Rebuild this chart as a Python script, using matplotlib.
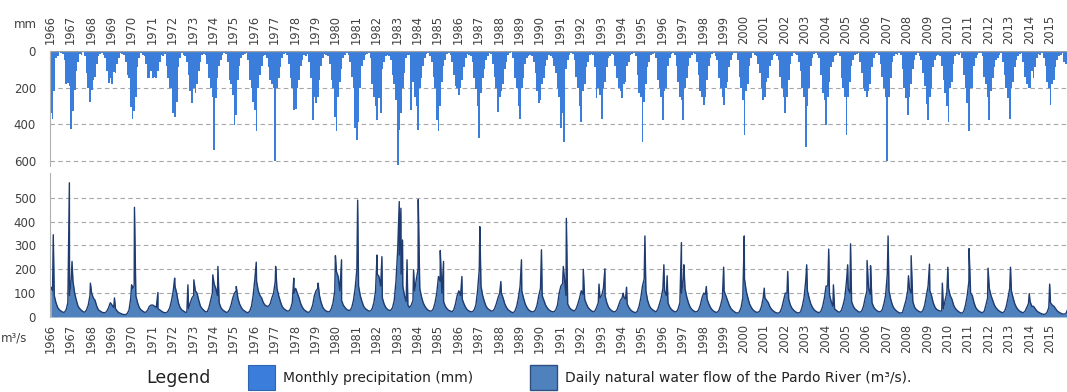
import numpy as np
import matplotlib
matplotlib.use("Agg")
import matplotlib.pyplot as plt
from matplotlib.patches import Rectangle

# anos da série (jan 1966 - nov 2015)
years = list(range(1966, 2016))

# precipitação mensal (mm), uma linha por ano, jan..dez
precip_mm = [
    [340, 370, 220, 40, 30, 5, 10, 15, 50, 180, 175, 190],
    [425, 330, 215, 110, 60, 15, 20, 5, 30, 120, 200, 280],
    [215, 160, 140, 70, 30, 15, 10, 20, 40, 110, 175, 150],
    [180, 115, 120, 70, 40, 10, 15, 20, 60, 130, 150, 305],
    [370, 330, 250, 90, 40, 10, 20, 30, 70, 150, 150, 110],
    [150, 145, 150, 110, 60, 20, 30, 15, 80, 150, 205, 200],
    [340, 360, 280, 90, 40, 10, 20, 25, 60, 130, 220, 287],
    [205, 230, 180, 110, 60, 20, 15, 20, 70, 150, 200, 250],
    [540, 260, 150, 80, 50, 20, 10, 15, 60, 160, 180, 240],
    [405, 350, 160, 80, 40, 20, 15, 10, 50, 160, 200, 280],
    [325, 440, 200, 130, 80, 30, 20, 40, 90, 160, 180, 200],
    [605, 200, 150, 90, 40, 15, 10, 20, 70, 150, 200, 325],
    [320, 200, 160, 80, 50, 20, 30, 15, 60, 150, 378, 250],
    [287, 250, 160, 80, 40, 15, 20, 30, 70, 160, 200, 360],
    [440, 250, 170, 100, 40, 20, 10, 20, 60, 140, 200, 424],
    [487, 387, 200, 80, 50, 20, 15, 10, 40, 180, 250, 300],
    [378, 260, 342, 100, 60, 30, 20, 30, 50, 130, 180, 270],
    [623, 433, 340, 200, 120, 40, 20, 20, 325, 170, 250, 300],
    [433, 200, 150, 80, 40, 15, 10, 30, 60, 140, 200, 378],
    [440, 300, 170, 80, 50, 15, 10, 20, 60, 130, 190, 200],
    [242, 200, 160, 90, 40, 15, 20, 30, 60, 150, 210, 300],
    [478, 230, 150, 100, 50, 25, 10, 15, 70, 140, 200, 333],
    [250, 220, 180, 100, 60, 20, 10, 5, 40, 150, 200, 300],
    [370, 200, 150, 70, 40, 30, 20, 30, 60, 120, 220, 287],
    [270, 180, 150, 80, 50, 20, 30, 40, 80, 120, 200, 250],
    [424, 340, 496, 100, 50, 20, 10, 15, 50, 140, 200, 300],
    [387, 220, 180, 90, 60, 20, 15, 20, 90, 260, 200, 240],
    [370, 200, 170, 90, 40, 30, 15, 20, 80, 150, 200, 220],
    [260, 180, 170, 80, 60, 20, 15, 10, 30, 130, 230, 250],
    [496, 280, 180, 90, 60, 20, 15, 10, 40, 160, 200, 250],
    [378, 220, 200, 80, 40, 15, 10, 20, 80, 170, 250, 270],
    [378, 200, 150, 80, 40, 20, 10, 15, 60, 130, 220, 250],
    [296, 250, 160, 80, 40, 15, 10, 30, 50, 150, 200, 250],
    [296, 200, 170, 90, 50, 20, 10, 10, 50, 140, 200, 270],
    [460, 220, 180, 80, 40, 10, 20, 30, 70, 120, 200, 270],
    [250, 170, 150, 80, 50, 20, 15, 30, 50, 140, 200, 250],
    [342, 250, 160, 70, 30, 10, 15, 20, 60, 110, 200, 250],
    [524, 300, 200, 80, 40, 15, 10, 20, 40, 130, 230, 270],
    [405, 250, 170, 90, 60, 30, 20, 10, 30, 150, 200, 250],
    [460, 250, 170, 80, 50, 20, 15, 10, 60, 120, 200, 220],
    [250, 220, 180, 90, 40, 15, 10, 20, 70, 140, 200, 250],
    [605, 250, 150, 60, 30, 15, 20, 10, 20, 100, 200, 260],
    [350, 250, 180, 100, 50, 20, 10, 30, 50, 120, 190, 290],
    [378, 250, 200, 90, 50, 30, 20, 30, 80, 160, 230, 300],
    [387, 200, 170, 70, 30, 15, 20, 10, 40, 130, 200, 287],
    [440, 200, 200, 80, 40, 20, 10, 10, 30, 140, 180, 250],
    [378, 220, 150, 90, 50, 40, 20, 10, 60, 130, 200, 260],
    [370, 200, 170, 90, 50, 30, 15, 10, 60, 140, 180, 205],
    [205, 110, 150, 90, 40, 15, 20, 10, 40, 80, 170, 200],
    [296, 180, 160, 90, 50, 30, 20, 10, 60, 70, 115],
]

# vazão natural (m3/s) - nível médio de cada mês, jan..dez
flow_m3s = [
    [120, 110, 90, 60, 40, 30, 25, 20, 20, 30, 60, 90],
    [160, 150, 100, 70, 45, 35, 28, 22, 20, 30, 50, 90],
    [100, 80, 70, 45, 30, 25, 20, 18, 18, 25, 40, 60],
    [50, 40, 35, 25, 18, 15, 12, 10, 10, 15, 30, 80],
    [120, 130, 90, 60, 40, 30, 25, 20, 20, 30, 45, 50],
    [50, 45, 40, 35, 30, 25, 20, 18, 18, 25, 40, 70],
    [110, 130, 100, 60, 40, 30, 25, 20, 20, 35, 60, 80],
    [90, 110, 100, 70, 45, 35, 28, 22, 22, 40, 70, 100],
    [140, 120, 90, 60, 40, 30, 25, 20, 20, 30, 50, 80],
    [100, 110, 80, 55, 40, 30, 25, 20, 18, 25, 45, 90],
    [160, 150, 110, 90, 80, 60, 50, 45, 45, 55, 80, 100],
    [150, 120, 90, 65, 45, 35, 30, 25, 25, 35, 60, 100],
    [120, 100, 80, 55, 40, 30, 25, 20, 20, 30, 50, 90],
    [110, 120, 90, 60, 40, 30, 25, 22, 22, 35, 60, 110],
    [190, 170, 110, 70, 50, 40, 32, 28, 28, 40, 70, 120],
    [200, 130, 90, 65, 45, 35, 30, 25, 25, 35, 60, 110],
    [180, 170, 130, 80, 55, 40, 32, 28, 28, 40, 70, 150],
    [280, 260, 180, 130, 90, 65, 50, 40, 50, 70, 110, 160],
    [200, 120, 85, 60, 45, 35, 28, 25, 25, 35, 60, 100],
    [170, 150, 100, 65, 45, 35, 28, 25, 22, 30, 55, 90],
    [110, 90, 75, 55, 40, 30, 25, 22, 22, 30, 50, 110],
    [200, 130, 90, 65, 45, 35, 30, 25, 25, 35, 55, 80],
    [100, 100, 80, 55, 40, 30, 25, 20, 18, 25, 45, 80],
    [130, 110, 80, 55, 40, 30, 25, 22, 22, 30, 50, 90],
    [120, 90, 70, 50, 38, 30, 25, 22, 22, 30, 50, 100],
    [130, 140, 170, 90, 55, 40, 32, 28, 25, 35, 55, 80],
    [110, 95, 75, 55, 40, 32, 26, 22, 25, 40, 60, 80],
    [90, 120, 90, 60, 42, 32, 26, 22, 22, 30, 50, 70],
    [80, 85, 75, 55, 40, 30, 24, 20, 18, 25, 45, 80],
    [130, 160, 110, 70, 48, 36, 30, 25, 22, 32, 55, 80],
    [120, 110, 90, 60, 42, 32, 26, 22, 22, 35, 60, 100],
    [160, 120, 85, 60, 42, 32, 26, 22, 22, 30, 50, 80],
    [100, 95, 75, 55, 40, 30, 24, 20, 20, 28, 50, 80],
    [110, 90, 70, 50, 36, 28, 22, 18, 16, 22, 40, 80],
    [160, 110, 80, 55, 40, 30, 24, 20, 20, 25, 45, 80],
    [80, 70, 60, 42, 32, 25, 20, 17, 16, 22, 40, 70],
    [100, 100, 75, 50, 36, 28, 22, 18, 17, 22, 45, 80],
    [150, 110, 80, 55, 40, 30, 24, 20, 18, 25, 45, 80],
    [130, 130, 95, 65, 45, 34, 28, 22, 20, 28, 50, 80],
    [150, 120, 100, 65, 45, 34, 28, 22, 20, 26, 45, 80],
    [110, 120, 95, 60, 42, 32, 26, 22, 22, 30, 55, 90],
    [180, 110, 75, 50, 36, 28, 22, 18, 16, 20, 45, 70],
    [110, 120, 100, 65, 42, 32, 26, 22, 20, 28, 50, 90],
    [130, 110, 90, 60, 42, 32, 28, 25, 25, 35, 70, 100],
    [120, 90, 75, 50, 36, 28, 22, 18, 16, 24, 50, 90],
    [150, 100, 90, 60, 40, 30, 24, 20, 18, 24, 50, 80],
    [120, 90, 70, 50, 38, 30, 24, 20, 18, 24, 45, 80],
    [120, 110, 80, 55, 40, 30, 24, 20, 18, 24, 40, 55],
    [65, 45, 45, 35, 25, 20, 16, 13, 11, 12, 20, 40],
    [60, 50, 45, 35, 25, 20, 16, 13, 12, 14, 30],
]

# picos diários de cheia (data em ano decimal, vazão m3/s)
peak_dates = [1966.05, 1966.16, 1966.95, 1967.08, 1967.98, 1969.16, 1970.0, 1970.14,
              1971.29, 1972.11, 1972.76, 1973.05, 1973.98, 1974.23, 1975.13, 1976.11,
              1977.06, 1977.95, 1979.14, 1979.99, 1980.29, 1981.08, 1982.03, 1982.27,
              1983.12, 1983.2, 1983.28, 1983.5, 1983.82, 1984.05, 1985.13, 1985.29,
              1986.19, 1987.07, 1988.1, 1989.11, 1990.09, 1991.16, 1991.31, 1992.14,
              1992.91, 1993.2, 1994.1, 1994.26, 1995.16, 1996.09, 1996.25, 1996.95,
              1997.07, 1998.17, 1999.02, 2000.03, 2001.01, 2002.16, 2003.09, 2004.17,
              2004.4, 2005.1, 2005.24, 2006.05, 2006.22, 2007.08, 2008.08, 2008.21,
              2009.11, 2009.74, 2010.01, 2011.05, 2011.98, 2013.08, 2014.0, 2015.0]
peak_flows = [125, 345, 563, 233, 142, 80, 135, 460,
              103, 163, 135, 156, 177, 212, 128, 230,
              212, 163, 142, 257, 240, 490, 260, 253,
              484, 456, 323, 240, 198, 493, 279, 233,
              170, 379, 149, 240, 282, 212, 414, 200,
              138, 202, 100, 125, 340, 219, 173, 312,
              219, 128, 209, 340, 121, 191, 219, 285,
              135, 219, 307, 237, 215, 340, 173, 257,
              222, 142, 209, 287, 205, 209, 98, 138]

c_rain = "#3b7ddb"
c_flow = "#4f81bd"
c_line = "#1f3b6f"
c_grid = "#a6a6a6"
c_txt = "#404040"
plt.rcParams['font.family'] = ['DejaVu Sans']

fig = plt.figure(figsize=(10.67, 3.92), dpi=100)
W, H = 1067, 392
ax1 = fig.add_axes([50 / W, 1 - 166 / H, 1017 / W, 115 / H])
ax2 = fig.add_axes([50 / W, 1 - 317 / H, 1017 / W, 144 / H])

# barras de chuva (invertidas)
bx, bh = [], []
for y, row in zip(years, precip_mm):
    for m, v in enumerate(row):
        bx.append(y + m / 12)
        bh.append(v)
ax1.bar(bx, bh, width=1 / 12, align='edge', color=c_rain, linewidth=0)
ax1.set_ylim(630, 0)
ax1.set_yticks([0, 200, 400, 600])

# vazão
fx, fy = [], []
for y, row in zip(years, flow_m3s):
    for m, v in enumerate(row):
        fx.append(y + (m + 0.5) / 12)
        fy.append(v)
fx = np.array(fx + peak_dates)
fy = np.array(fy + peak_flows)
order = np.argsort(fx)
fx, fy = fx[order], fy[order]
ax2.fill_between(fx, 0, fy, color=c_flow, linewidth=0)
ax2.plot(fx, fy, color=c_line, lw=1.0)
ax2.set_ylim(0, 604)
ax2.set_yticks([0, 100, 200, 300, 400, 500])

for ax in (ax1, ax2):
    ax.set_xlim(1966, 2015.85)
    ax.set_xticks(years)
    ax.set_xticklabels([str(y) for y in years], rotation=90, fontsize=8.3, color=c_txt)
    ax.tick_params(axis='x', length=0, pad=5)
    ax.tick_params(axis='y', length=0, labelsize=8.5, labelcolor=c_txt, pad=10)
    ax.yaxis.grid(True, linestyle=(0, (4, 3)), color=c_grid, lw=0.8)
    ax.set_axisbelow(True)
    for s in ('top', 'right', 'bottom'):
        ax.spines[s].set_visible(False)
    ax.spines['left'].set_color('#b0b0b0')

ax1.xaxis.tick_top()
ax1.axhline(0, color='#a0a0a0', lw=1)
ax1.get_ygridlines()[0].set_visible(False)

fig.text(25 / W, 1 - 24 / H, "mm", fontsize=8.5, color=c_txt, ha='center', va='center')
fig.text(14 / W, 1 - 338 / H, "m³/s", fontsize=8.5, color=c_txt, ha='center', va='center')

# legenda
fig.text(178 / W, 1 - 378 / H, "Legend", fontsize=12.5, color='#222222', ha='center', va='center')
fig.patches.append(Rectangle((248 / W, 1 - 390 / H), 27 / W, 25 / H, transform=fig.transFigure,
                             facecolor=c_rain, edgecolor='#2e64b0', lw=0.8))
fig.text(283 / W, 1 - 378 / H, "Monthly precipitation (mm)", fontsize=10, color='#222222',
         ha='left', va='center')
fig.patches.append(Rectangle((530 / W, 1 - 390 / H), 27 / W, 25 / H, transform=fig.transFigure,
                             facecolor=c_flow, edgecolor='#2f4f80', lw=1))
fig.text(565 / W, 1 - 378 / H, "Daily natural water flow of the Pardo River (m³/s).",
         fontsize=10, color='#222222', ha='left', va='center')

fig.savefig("out.png", dpi=100)
